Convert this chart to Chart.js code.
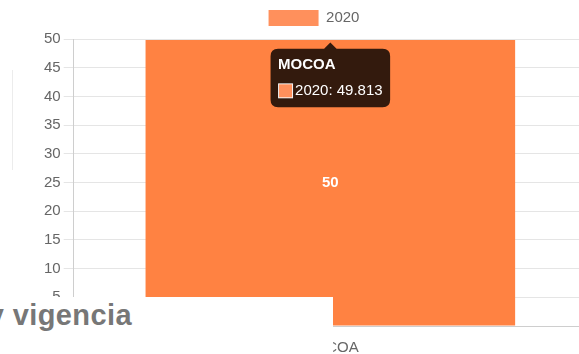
<!DOCTYPE html>
<html>
<head>
<meta charset="utf-8">
<script src="https://cdn.jsdelivr.net/npm/chart.js@4.4.0/dist/chart.umd.min.js"></script>
<style>
  html, body { margin: 0; padding: 0; background: #fff; width: 579px; height: 354px; overflow: hidden; position: relative; }
  #wrap { position: absolute; left: 0; top: 0; width: 600px; height: 360px; }
  #side { position: absolute; left: 12px; top: 70px; width: 1px; height: 100px; background: #ececec; }
  #cover { position: absolute; left: 0; top: 297px; width: 333px; height: 60px; background: #fff; overflow: hidden; }
  #cover span { position: absolute; right: 201px; top: 2px; white-space: nowrap; font-family: 'Liberation Sans', Arial, sans-serif; font-weight: bold; font-size: 29px; letter-spacing: 0.4px; color: #777; }
</style>
</head>
<body>
<div id="side"></div>
<div id="wrap"><canvas id="c" width="600" height="360"></canvas></div>
<div id="cover"><span>Recaudo por municipio y vigencia</span></div>
<script>
const categories = ['MOCOA'];
const seriesLabel = '2020';
const values2020 = [49.813];
const yMin = 0, yMax = 50, yStep = 5;

const baseColor = '#ff905c';
const hoverColor = '#ff8242';

Chart.defaults.font.family = "'Liberation Sans', Arial, Helvetica, sans-serif";
Chart.defaults.font.size = 15;
Chart.defaults.color = '#666';

const barLabels = {
  id: 'barLabels',
  afterDatasetsDraw(chart) {
    const ctx = chart.ctx;
    chart.data.datasets.forEach((ds, di) => {
      const meta = chart.getDatasetMeta(di);
      meta.data.forEach((el, i) => {
        const p = el.getProps(['x', 'y', 'base'], true);
        ctx.save();
        ctx.fillStyle = '#fff';
        ctx.font = "bold 15px 'Liberation Sans', Arial, sans-serif";
        ctx.textAlign = 'center';
        ctx.textBaseline = 'middle';
        ctx.fillText(String(Math.round(ds.data[i])), p.x, (p.y + p.base) / 2);
        ctx.restore();
      });
    });
  }
};

const legendGap = {
  id: 'legendGap',
  beforeLayout(chart) {
    const lg = chart.legend;
    if (lg && !lg._gapPatched) {
      const fit = lg.fit;
      lg.fit = function () { fit.apply(this, arguments); this.height += 3; };
      lg._gapPatched = true;
    }
  }
};

const chart = new Chart(document.getElementById('c'), {
  type: 'bar',
  data: {
    labels: categories,
    datasets: [{
      label: seriesLabel,
      data: values2020,
      backgroundColor: baseColor,
      hoverBackgroundColor: hoverColor,
      borderWidth: 0
    }]
  },
  options: {
    responsive: false,
    animation: false,
    layout: { padding: { left: 41, right: 13, top: 0, bottom: 0 } },
    plugins: {
      legend: {
        labels: { boxWidth: 50, boxHeight: 16, padding: 10, font: { size: 15 } }
      },
      tooltip: {
        yAlign: 'top',
        backgroundColor: 'rgba(0,0,0,0.8)',
        titleFont: { size: 15, weight: 'bold' },
        bodyFont: { size: 15 },
        padding: 7.5,
        cornerRadius: 7.5,
        caretSize: 6.25,
        caretPadding: 2.5,
        titleMarginBottom: 7.5,
        boxWidth: 15,
        boxHeight: 15,
        boxPadding: 0,
        callbacks: {
          label: (c) => c.dataset.label + ': ' + c.raw
        }
      }
    },
    scales: {
      x: {
        grid: { tickLength: 10 },
        ticks: { padding: 3 }
      },
      y: {
        min: yMin, max: yMax,
        grid: { tickLength: 10 },
        ticks: { stepSize: yStep, padding: 3 }
      }
    }
  },
  plugins: [legendGap, barLabels]
});

const act = [{ datasetIndex: 0, index: 0 }];
chart.setActiveElements(act);
chart.tooltip.setActiveElements(act, { x: 0, y: 0 });
chart.update('none');
</script>
</body>
</html>
